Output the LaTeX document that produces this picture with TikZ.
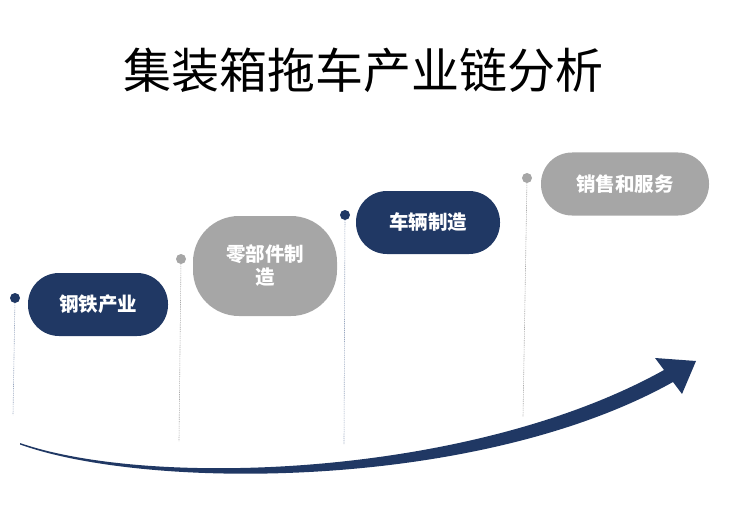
\documentclass[tikz,border=0pt]{standalone}
\usepackage{fontspec}
\newfontfamily\cjk{Noto Sans CJK SC}
\definecolor{navy}{HTML}{203864}
\definecolor{greyfill}{HTML}{A6A6A6}
\definecolor{lineblue}{HTML}{9AA8C0}
\definecolor{linegrey}{HTML}{ABABAB}
\tikzset{
  pill/.style={rounded corners=31pt, inner sep=0pt, minimum height=63pt, text=white,
    font=\cjk\bfseries\fontsize{19.5}{23}\selectfont, align=center},
  dot/.style={circle, inner sep=0pt, minimum size=10pt},
  vline/.style={line width=0.6pt, dash pattern=on 1pt off 0.8pt},
}
\begin{document}
\begin{tikzpicture}[x=1pt,y=-1pt]
\useasboundingbox (0,0) rectangle (731,508);
\node[font=\cjk\fontsize{48}{52}\selectfont] (title) at (363,70) {集装箱拖车产业链分析};

% stage 1
\node[pill, fill=navy, minimum width=140pt] (s1) at (98,304.5) {钢铁产业};
\node[dot, fill=navy] (d1) at (15,298) {};
\coordinate (e1) at (13,415);
\draw[vline, lineblue] (d1) -- (e1);

% stage 2
\node[pill, fill=greyfill, minimum width=144pt, minimum height=100pt, rounded corners=46pt] (s2) at (265,266) {零部件制\\造};
\node[dot, fill=greyfill] (d2) at (181,259) {};
\coordinate (e2) at (179,441);
\draw[vline, linegrey] (d2) -- (e2);

% stage 3
\node[pill, fill=navy, minimum width=144pt] (s3) at (428,222.5) {车辆制造};
\node[dot, fill=navy] (d3) at (345,215) {};
\coordinate (e3) at (344,444);
\draw[vline, lineblue] (d3) -- (e3);

% stage 4
\node[pill, fill=greyfill, minimum width=168pt] (s4) at (625,184) {销售和服务};
\node[dot, fill=greyfill] (d4) at (527,178) {};
\coordinate (e4) at (523,417);
\draw[vline, linegrey] (d4) -- (e4);

% growth arrow
\fill[navy] (20,443) .. controls (150,488) and (470,478) .. (664,370)
  -- (655,358) -- (696,361) -- (682,394) -- (673,382)
  .. controls (480,490) and (150,491) .. (20,444.5) -- cycle;
\end{tikzpicture}
\end{document}
